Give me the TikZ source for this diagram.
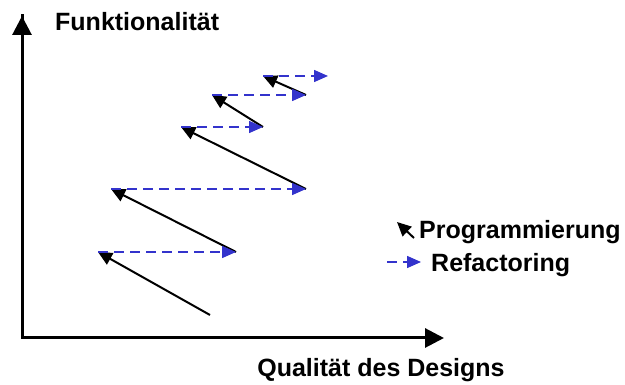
\documentclass[tikz,border=0pt]{standalone}
\usepackage{fontspec}
\setmainfont{Liberation Sans}
\usetikzlibrary{arrows.meta}

\definecolor{refblue}{RGB}{51,51,204}

\tikzset{
  axis/.style={line width=3pt, -{Triangle[length=19pt,width=19pt]}},
  prog/.style={line width=2pt, -{Triangle[length=14pt,width=13pt]}},
  refac/.style={refblue, line width=1.6pt, dash pattern=on 10pt off 6pt,
    -{Triangle[length=14pt,width=12pt]}},
  lbl/.style={font=\bfseries\fontsize{25}{30}\selectfont, inner sep=0pt}
}

\begin{document}
\begin{tikzpicture}[x=1pt, y=-1pt]
\useasboundingbox (0,0) rectangle (625,385);

% Axes
\coordinate (o) at (22,338);
\coordinate (ytop) at (22,16);
\coordinate (xend) at (444,338);
\draw[line width=3pt, line cap=rect] (o) -- (ytop);
\draw[axis] (o) -- (ytop);
\draw[axis] (o) -- (xend);
\node[lbl, anchor=west] (ylab) at (55,22) {Funktionalität};
\node[lbl] (xlab) at (381,370) {Qualität des Designs};

% Zigzag points
\coordinate (p0) at (210,315);
\coordinate (a1) at (98,252);
\coordinate (b1) at (236,252);
\coordinate (a2) at (111,189);
\coordinate (b2) at (306,189);
\coordinate (a3) at (181,127);
\coordinate (b3) at (263,127);
\coordinate (a4) at (212,95);
\coordinate (b4) at (306,95);
\coordinate (a5) at (263,76);
\coordinate (b5) at (328,76);

% Programmierung
\draw[prog] (p0) -- (a1);
\draw[prog] (b1) -- (a2);
\draw[prog] (b2) -- (a3);
\draw[prog] (b3) -- (a4);
\draw[prog] (b4) -- (a5);

% Refactoring
\draw[refac] (a1) -- (b1);
\draw[refac] (a2) -- (b2);
\draw[refac] (a3) -- (b3);
\draw[refac] (a4) -- (b4);
\draw[refac] (a5) -- (b5);

% Legend
\coordinate (lp1) at (414,238);
\coordinate (lp2) at (397,222);
\draw[prog, -{Triangle[length=14pt,width=13pt]}] (lp1) -- (lp2);
\node[lbl, anchor=west] (progtxt) at (419,232) {Programmierung};
\coordinate (lr1) at (387,262);
\coordinate (lr2) at (421,262);
\draw[refac] (lr1) -- (lr2);
\node[lbl, anchor=west] (reftxt) at (431,265) {Refactoring};

\end{tikzpicture}
\end{document}
